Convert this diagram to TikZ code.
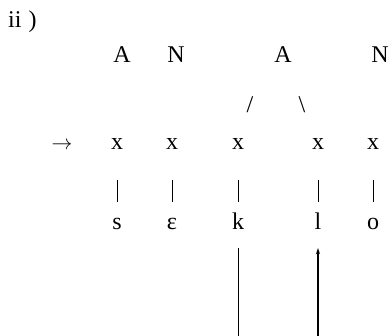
\documentclass[tikz,border=0pt]{standalone}
\usepackage{fontspec}
\setmainfont{Liberation Serif}
\usetikzlibrary{arrows.meta}
\begin{document}
\begin{tikzpicture}[x=1pt,y=-1pt,
    every node/.style={inner sep=0pt,anchor=base,font=\fontsize{24}{28}\selectfont},
    slot/.style={text height=0.45em,text depth=0pt},
    seg/.style={text height=0.7em,text depth=0pt},
    bar/.style={line width=0.8pt,shorten <=30pt,shorten >=21.2pt}]
    \useasboundingbox (0,0) rectangle (391,336);
    \node[anchor=base west] (num) at (8,28) {ii\hspace{0.3em})};
    % tiers
    \node (A1) at (122,63) {A};
    \node (N1) at (176,63) {N};
    \node (A2) at (283,63) {A};
    \node (N2) at (380,63) {N};
    \node (slL) at (250,113) {/};
    \node (slR) at (302,113) {\textbackslash};
    \node[font=\fontsize{20}{24}\selectfont] (arr) at (62,150) {$\rightarrow$};
    \node[slot] (x1) at (117,150) {x};
    \node[slot] (x2) at (172,150) {x};
    \node[slot] (x3) at (238,150) {x};
    \node[slot] (x4) at (318,150) {x};
    \node[slot] (x5) at (373,150) {x};
    \node[seg] (s) at (117,230) {s};
    \node[seg] (e) at (172,230) {ε};
    \node[seg] (k) at (238,230) {k};
    \node[seg] (l) at (318,230) {l};
    \node[seg] (o) at (373,230) {o};
    \coordinate (kend) at (238,336);
    \coordinate (lend) at (318,336);
    \path[bar] (x1) edge (s)
               (x2) edge (e)
               (x3) edge (k)
               (x4) edge (l)
               (x5) edge (o);
    \draw[line width=0.8pt,shorten <=18pt] (k) -- (kend);
    \draw[-{Stealth[length=6pt,width=4pt]},line width=1.1pt,shorten >=18pt] (lend) -- (l);
\end{tikzpicture}
\end{document}
